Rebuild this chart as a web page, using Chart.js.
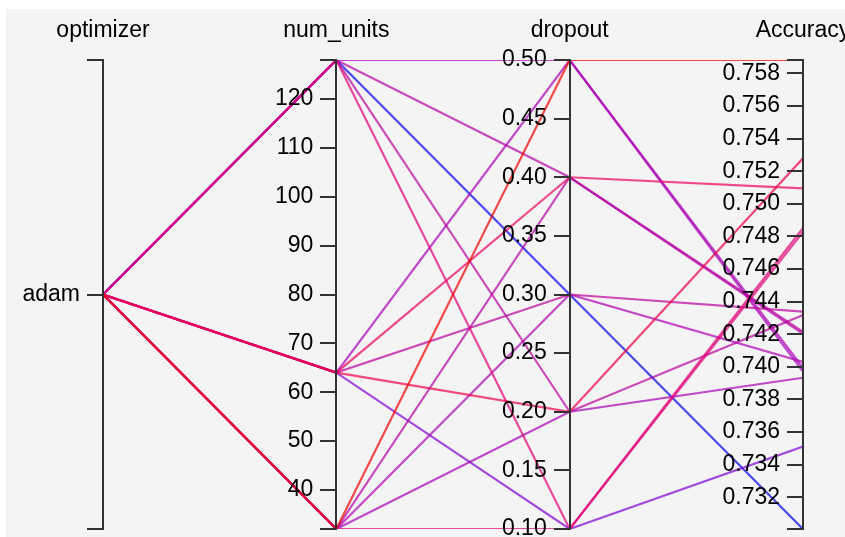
<!DOCTYPE html>
<html>
<head>
<meta charset="utf-8">
<script src="https://cdn.jsdelivr.net/npm/chart.js@4.4.1/dist/chart.umd.min.js"></script>
<style>
    html, body { margin: 0; padding: 0; background: #fff; }
    #wrap { position: relative; width: 845px; height: 537px; }
</style>
</head>
<body>
<div id="wrap"><canvas id="chart" width="845" height="537"></canvas></div>
<script>
// parallel coordinates: one row per trial
const dimensions = ['optimizer', 'num_units', 'dropout', 'Accuracy'];

const optimizer = ['adam', 'adam', 'adam', 'adam', 'adam',
                   'adam', 'adam', 'adam', 'adam', 'adam',
                   'adam', 'adam', 'adam', 'adam', 'adam'];
const numUnits = [128, 128, 128, 128, 128, 64, 64, 64, 64, 64, 32, 32, 32, 32, 32];
const dropout = [0.5, 0.4, 0.3, 0.2, 0.1, 0.5, 0.4, 0.3, 0.2, 0.1, 0.5, 0.4, 0.3, 0.2, 0.1];
const accuracy = [0.73994, 0.74214, 0.73005, 0.74318, 0.74852,
                  0.73970, 0.75095, 0.74339, 0.75279, 0.73511,
                  0.75882, 0.74202, 0.74030, 0.73933, 0.74827];

const optimizerCategories = ['adam'];
const numUnitsTicks = [40, 50, 60, 70, 80, 90, 100, 110, 120];
const dropoutTicks = [0.10, 0.15, 0.20, 0.25, 0.30, 0.35, 0.40, 0.45, 0.50];
const accuracyTicks = [0.732, 0.734, 0.736, 0.738, 0.740, 0.742, 0.744, 0.746,
                       0.748, 0.750, 0.752, 0.754, 0.756, 0.758];

const FONT = "'Liberation Sans', Arial, sans-serif";
const FONT_SIZE = 23;
const AXIS_COLOR = '#333';
const TICK_LEN = 15;
const LABEL_GAP = 8;

function range(values) {
    return [Math.min(...values), Math.max(...values)];
}

const [unitsMin, unitsMax] = range(numUnits);
const [dropMin, dropMax] = range(dropout);
const [accMin, accMax] = range(accuracy);

// ticks at both ends of the domain (outer ticks) plus labelled ticks
function buildTicks(lo, hi, values, format) {
    const ticks = [{ value: lo, label: '' }];
    values.forEach(v => {
        if (v >= lo - 1e-9 && v <= hi + 1e-9) {
            ticks.push({ value: v, label: format(v) });
        }
    });
    ticks.push({ value: hi, label: '' });
    return ticks;
}

function catPosition(cat) {
    const idx = optimizerCategories.indexOf(cat);
    return (idx + 0.5) / optimizerCategories.length;
}

const optTicks = [{ value: 0, label: '' }]
    .concat(optimizerCategories.map(c => ({ value: catPosition(c), label: c })))
    .concat([{ value: 1, label: '' }]);
const unitTicks = buildTicks(unitsMin, unitsMax, numUnitsTicks, v => String(v));
const dropTicks = buildTicks(dropMin, dropMax, dropoutTicks, v => v.toFixed(2));
const accTicks = buildTicks(accMin, accMax, accuracyTicks, v => v.toFixed(3));

function makeAxis(index, lo, hi, ticks) {
    return {
        type: 'linear',
        axis: 'y',
        position: { x: index },
        min: lo,
        max: hi,
        afterBuildTicks: scale => {
            scale.ticks = ticks.map(t => ({ value: t.value }));
        },
        afterFit: scale => {
            scale.paddingTop = 0;
            scale.paddingBottom = 0;
        },
        grid: {
            drawOnChartArea: false,
            drawTicks: true,
            tickLength: TICK_LEN,
            color: AXIS_COLOR,
            lineWidth: 2,
            z: 1,
        },
        border: { display: true, color: AXIS_COLOR, width: 2, z: 1 },
        ticks: {
            autoSkip: false,
            color: '#000',
            font: { family: FONT, size: FONT_SIZE },
            callback: (value, i) => ticks[i] ? ticks[i].label : '',
            z: 1,
        },
    };
}

function norm(v, lo, hi) {
    return (v - lo) / (hi - lo);
}

// blue (low) -> purple -> red (high), a little darker around purple
function lineColor(acc) {
    const t = norm(acc, accMin, accMax);
    const hue = (240 + 120 * Math.pow(t, 0.7)) % 360;
    const light = 47 - 12 * Math.exp(-Math.pow((t - 0.38) / 0.22, 2));
    return `hsla(${hue}, 100%, ${light}%, 0.7)`;
}

// better runs are drawn on top
const datasets = accuracy.map((acc, i) => ({
    data: [
        { x: 0, y: catPosition(optimizer[i]) },
        { x: 1, y: norm(numUnits[i], unitsMin, unitsMax) },
        { x: 2, y: norm(dropout[i], dropMin, dropMax) },
        { x: 3, y: norm(acc, accMin, accMax) },
    ],
    borderColor: lineColor(acc),
    borderWidth: 2.2,
    pointRadius: 0,
    tension: 0,
    fill: false,
    order: accMax - acc,
    yAxisID: 'yn',
}));

const background = {
    id: 'background',
    beforeDraw(chart) {
        const ctx = chart.ctx;
        ctx.save();
        ctx.fillStyle = '#f4f4f4';
        ctx.fillRect(6, 9, chart.width, chart.height);
        ctx.restore();
    },
};

// labels of axes placed in the middle of the chart sit on the axis line; move them left of the ticks
const shiftLabels = {
    id: 'shiftLabels',
    afterLayout(chart) {
        ['yOpt', 'yUnits', 'yDrop', 'yAcc'].forEach(id => {
            const items = chart.scales[id].getLabelItems();
            items.forEach(item => {
                item.options.translation[0] -= TICK_LEN + LABEL_GAP;
            });
        });
    },
};

const axisTitles = {
    id: 'axisTitles',
    afterDraw(chart) {
        const ctx = chart.ctx;
        const xs = chart.scales.x;
        ctx.save();
        ctx.fillStyle = '#000';
        ctx.font = `${FONT_SIZE}px ${FONT}`;
        ctx.textAlign = 'center';
        ctx.textBaseline = 'middle';
        dimensions.forEach((name, i) => {
            ctx.fillText(name, xs.getPixelForValue(i), 31);
        });
        ctx.restore();
    },
};

new Chart(document.getElementById('chart'), {
    type: 'line',
    data: { datasets },
    options: {
        responsive: false,
        animation: false,
        devicePixelRatio: 1,
        layout: { padding: { left: 103, right: 42, top: 60, bottom: 8 } },
        plugins: {
            legend: { display: false },
            tooltip: { enabled: false },
        },
        scales: {
            x: { type: 'linear', min: 0, max: 3, display: false },
            yn: { type: 'linear', axis: 'y', min: 0, max: 1, display: false },
            yOpt: makeAxis(0, 0, 1, optTicks),
            yUnits: makeAxis(1, unitsMin, unitsMax, unitTicks),
            yDrop: makeAxis(2, dropMin, dropMax, dropTicks),
            yAcc: makeAxis(3, accMin, accMax, accTicks),
        },
    },
    plugins: [background, shiftLabels, axisTitles],
});
</script>
</body>
</html>
